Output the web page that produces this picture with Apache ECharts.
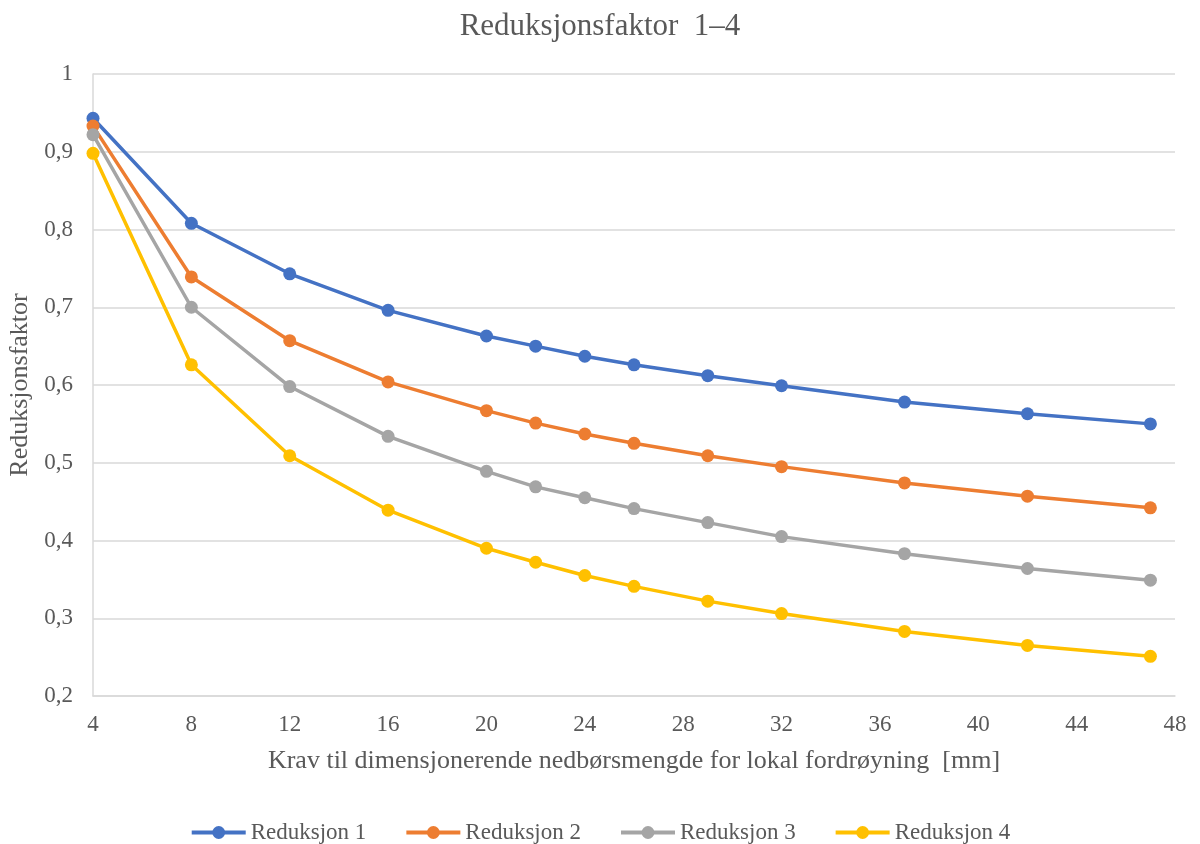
<!DOCTYPE html>
<html>
<head>
<meta charset="utf-8">
<script src="https://cdn.jsdelivr.net/npm/echarts@6/dist/echarts.min.js"></script>
<style>html,body{margin:0;padding:0;background:#fff}#c{width:1200px;height:844px}</style>
</head>
<body>
<div id="c"></div>
<script>
const xValues = [4, 8, 12, 16, 20, 22, 24, 26, 29, 32, 37, 42, 47];
const reduksjon1 = [0.943, 0.808, 0.743, 0.696, 0.663, 0.650, 0.637, 0.626, 0.612, 0.599, 0.578, 0.563, 0.550];
const reduksjon2 = [0.933, 0.739, 0.657, 0.604, 0.567, 0.551, 0.537, 0.525, 0.509, 0.495, 0.474, 0.457, 0.442];
const reduksjon3 = [0.922, 0.700, 0.598, 0.534, 0.489, 0.469, 0.455, 0.441, 0.423, 0.405, 0.383, 0.364, 0.349];
const reduksjon4 = [0.898, 0.626, 0.509, 0.439, 0.390, 0.372, 0.355, 0.341, 0.322, 0.306, 0.283, 0.265, 0.251];
const seriesNames = ['Reduksjon 1', 'Reduksjon 2', 'Reduksjon 3', 'Reduksjon 4'];
const colors = ['#4472C4', '#ED7D31', '#A5A5A5', '#FFC000'];
const titleText = 'Reduksjonsfaktor  1–4';
const xAxisTitle = 'Krav til dimensjonerende nedbørsmengde for lokal fordrøyning  [mm]';
const yAxisTitle = 'Reduksjonsfaktor';

const font = '"Liberation Serif", "Times New Roman", serif';
const textColor = '#595959';
const allSeries = [reduksjon1, reduksjon2, reduksjon3, reduksjon4];

const chart = echarts.init(document.getElementById('c'), null, {renderer: 'canvas'});
chart.setOption({
  animation: false,
  backgroundColor: '#fff',
  color: colors,
  title: {
    text: titleText, left: 'center', top: 6,
    textStyle: {fontFamily: font, fontSize: 31, fontWeight: 'normal', color: textColor}
  },
  legend: {
    top: 816, left: 'center', itemWidth: 54, itemHeight: 16, itemGap: 38,
    data: seriesNames,
    lineStyle: {width: 4},
    textStyle: {fontFamily: font, fontSize: 23, color: textColor}
  },
  grid: {left: 93, right: 25, top: 74, bottom: 148, containLabel: false, outerBoundsMode: 'none'},
  xAxis: {
    type: 'value', min: 4, max: 48, interval: 4,
    name: xAxisTitle, nameLocation: 'middle', nameGap: 52,
    nameTextStyle: {fontFamily: font, fontSize: 26, color: textColor},
    axisLine: {show: true, lineStyle: {color: '#d9d9d9', width: 1.5}},
    axisTick: {show: false},
    splitLine: {show: false},
    axisLabel: {fontFamily: font, fontSize: 23, color: textColor, margin: 17}
  },
  yAxis: {
    type: 'value', min: 0.2, max: 1, interval: 0.1,
    name: yAxisTitle, nameLocation: 'middle', nameGap: 60, nameRotate: 90,
    nameTextStyle: {fontFamily: font, fontSize: 26, color: textColor},
    axisLine: {show: true, lineStyle: {color: '#d9d9d9', width: 1.5}},
    axisTick: {show: false},
    splitLine: {show: true, lineStyle: {color: '#d9d9d9', width: 1.5}},
    axisLabel: {
      fontFamily: font, fontSize: 23, color: textColor, margin: 20,
      formatter: v => (Math.round(v * 10) / 10).toString().replace('.', ',')
    }
  },
  series: seriesNames.map((n, i) => ({
    name: n, type: 'line',
    data: xValues.map((x, j) => [x, allSeries[i][j]]),
    symbol: 'circle', symbolSize: 13,
    lineStyle: {width: 3.5, color: colors[i]},
    itemStyle: {color: colors[i]}
  }))
});
</script>
</body>
</html>
